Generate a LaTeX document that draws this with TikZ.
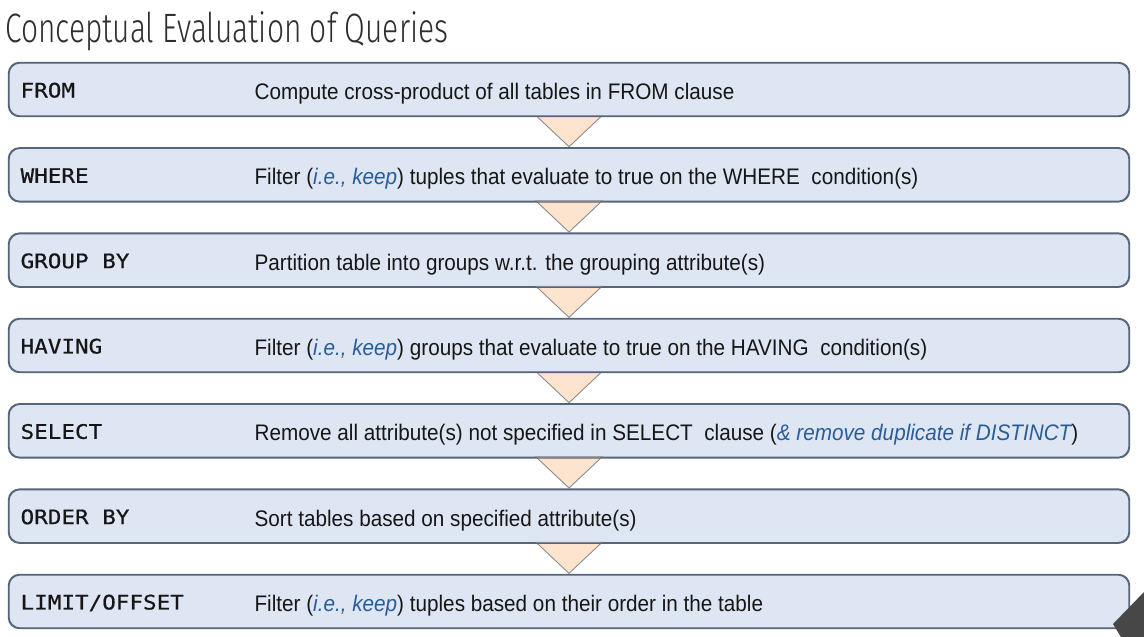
\documentclass[tikz,border=0pt]{standalone}
\usepackage{fontspec}
\usetikzlibrary{calc}
\setmainfont{Liberation Sans}[FakeStretch=0.92]
\newfontfamily\monofont{DejaVu Sans Mono}[FakeStretch=1.13, FakeBold=0.6]
\IfFontExistsTF{Fira Sans Light}
  {\newfontfamily\titlefont{Fira Sans Light}[FakeStretch=0.73]}
  {\newfontfamily\titlefont{Fira Sans}[FakeStretch=0.73]}
\definecolor{boxfill}{HTML}{DDE6F2}
\definecolor{boxline}{HTML}{55657A}
\definecolor{trifill}{HTML}{FDE4CF}
\definecolor{triline}{HTML}{8C8C8C}
\definecolor{inkblue}{HTML}{2A5C9A}
\definecolor{ink}{HTML}{161616}
\definecolor{titleink}{HTML}{2E2E2E}
\definecolor{corner}{HTML}{474747}
\newcommand{\hl}[1]{{\itshape\color{inkblue}#1}}
\begin{document}
\begin{tikzpicture}[x=1pt,y=-1pt,
  stage/.style={draw=boxline, line width=1.2pt, fill=boxfill, rounded corners=11pt,
    minimum width=1120pt, minimum height=53pt, inner sep=0pt},
  clause/.style={anchor=base west, inner sep=0pt, text=ink, font=\monofont\fontsize{20}{24}\selectfont},
  desc/.style={anchor=base west, inner sep=0pt, text=ink, font=\fontsize{22.5}{27}\selectfont},
  flow/.style={draw=triline, line width=0.9pt, fill=trifill, line join=miter}]
\useasboundingbox (0,0) rectangle (1144,637);
\fill[white] (0,0) rectangle (1144,637);

\node[anchor=base west, inner sep=0pt, text=titleink,
  font=\titlefont\fontsize{41}{48}\selectfont] (title) at (5,42) {Conceptual Evaluation of Queries};

% stage boxes
\foreach \i in {1,...,7} {
  \pgfmathsetmacro{\cy}{89.5+85.33*(\i-1)}
  \node[stage] (b\i) at (569,\cy) {};
}

% flow arrows between consecutive stages
\foreach \i/\j in {1/2,2/3,3/4,4/5,5/6,6/7} {
  \draw[flow] ($(b\i.south)+(-33,-1)$) -- ($(b\j.north)+(0,-1)$) -- ($(b\i.south)+(33,-1)$) -- cycle;
}
% redraw box borders over the arrow tops
\foreach \i in {1,...,7} {
  \draw[boxline, line width=1.2pt, rounded corners=11pt] (b\i.south west) rectangle (b\i.north east);
}

% clause keywords
\foreach \i/\t in {1/{FROM},2/{WHERE},3/{GROUP BY},4/{HAVING},5/{SELECT},6/{ORDER BY},7/{LIMIT/OFFSET}} {
  \node[clause] (k\i) at ($(b\i.west)+(12,8)$) {\t};
}

% descriptions
\node[desc] (d1) at ($(b1.west)+(246,10)$) {Compute cross-product of all tables in FROM clause};
\node[desc] (d2) at ($(b2.west)+(246,10)$) {Filter (\hl{i.e., keep}) tuples that evaluate to true on the WHERE\ \ condition(s)};
\node[desc] (d3) at ($(b3.west)+(246,10)$) {Partition table into groups w.r.t. the grouping attribute(s)};
\node[desc] (d4) at ($(b4.west)+(246,10)$) {Filter (\hl{i.e., keep}) groups that evaluate to true on the HAVING\ \ condition(s)};
\node[desc] (d5) at ($(b5.west)+(246,10)$) {Remove all attribute(s) not specified in SELECT\ \ clause (\hl{\& remove duplicate if DISTINCT})};
\node[desc] (d6) at ($(b6.west)+(246,10)$) {Sort tables based on specified attribute(s)};
\node[desc] (d7) at ($(b7.west)+(246,10)$) {Filter (\hl{i.e., keep}) tuples based on their order in the table};

% folded page corner
\fill[corner] (1144,592) -- (1113,624) -- (1121,637) -- (1144,637) -- cycle;
\end{tikzpicture}
\end{document}
